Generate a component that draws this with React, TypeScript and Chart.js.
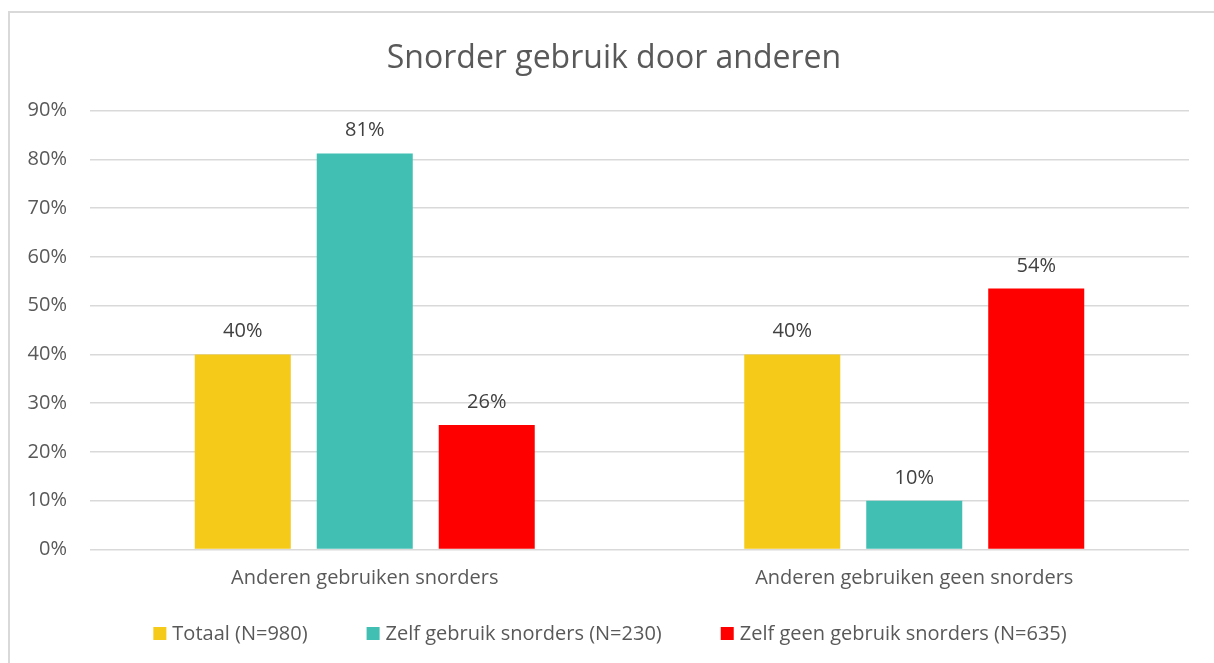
import React, { useEffect, useRef } from "react";
import { Chart, registerables } from "chart.js";

Chart.register(...registerables);

const TITLE = "Snorder gebruik door anderen";
const categories = ["Anderen gebruiken snorders", "Anderen gebruiken geen snorders"];
const seriesNames = [
  "Totaal (N=980)",
  "Zelf gebruik snorders (N=230)",
  "Zelf geen gebruik snorders (N=635)",
];
const totaal = [40.0, 40.0];
const zelfGebruik = [81.2, 10.0];
const zelfGeenGebruik = [25.5, 53.5];
const seriesColors = ["#F5CA18", "#41BFB3", "#FF0000"];
const yTicks = [0, 10, 20, 30, 40, 50, 60, 70, 80, 90];

const FONT = '"Open Sans", sans-serif';
const TEXT = "#595959";
const SIZE = 20;

const titlePlugin = {
  id: "customTitle",
  afterDraw(chart: any) {
    const ctx = chart.ctx;
    ctx.save();
    ctx.font = `32px ${FONT}`;
    ctx.fillStyle = TEXT;
    ctx.textAlign = "center";
    ctx.textBaseline = "alphabetic";
    ctx.fillText(TITLE, chart.width / 2 + 2, 55);
    ctx.restore();
  },
};

const dataLabelPlugin = {
  id: "dataLabels",
  afterDatasetsDraw(chart: any) {
    const ctx = chart.ctx;
    ctx.save();
    ctx.font = `${SIZE}px ${FONT}`;
    ctx.fillStyle = "#404040";
    ctx.textAlign = "center";
    ctx.textBaseline = "alphabetic";
    chart.data.datasets.forEach((ds: any, i: number) => {
      const meta = chart.getDatasetMeta(i);
      meta.data.forEach((bar: any, j: number) => {
        ctx.fillText(Math.round(ds.data[j]) + "%", bar.x, bar.y - 17);
      });
    });
    ctx.restore();
  },
};

const legendPlugin = {
  id: "customLegend",
  afterDraw(chart: any) {
    const ctx = chart.ctx;
    ctx.save();
    ctx.font = `${SIZE}px ${FONT}`;
    ctx.textBaseline = "middle";
    ctx.textAlign = "left";
    const box = 13;
    const gap = 6;
    const spacing = 59;
    const widths = chart.data.datasets.map(
      (ds: any) => box + gap + ctx.measureText(ds.label).width
    );
    const total = widths.reduce((a: number, b: number) => a + b, 0) + spacing * (widths.length - 1);
    let x = chart.width / 2 - total / 2 - 2;
    const y = chart.chartArea.bottom + 84;
    chart.data.datasets.forEach((ds: any, i: number) => {
      ctx.fillStyle = ds.backgroundColor;
      ctx.fillRect(x, y - box / 2, box, box);
      ctx.fillStyle = TEXT;
      ctx.fillText(ds.label, x + box + gap, y + 1);
      x += widths[i] + spacing;
    });
    ctx.restore();
  },
};

export default function App() {
  const ref = useRef<HTMLCanvasElement | null>(null);
  useEffect(() => {
    if (!ref.current) return;
    const seriesData = [totaal, zelfGebruik, zelfGeenGebruik];
    const chart = new Chart(ref.current, {
      type: "bar",
      data: {
        labels: categories,
        datasets: seriesNames.map((name, i) => ({
          label: name,
          data: seriesData[i],
          backgroundColor: seriesColors[i],
          categoryPercentage: 0.666,
          barPercentage: 0.787,
        })),
      },
      options: {
        responsive: false,
        animation: false,
        layout: { padding: { left: 0, right: 25, top: 97.5, bottom: 63.5 } },
        plugins: {
          title: { display: false },
          legend: { display: false },
          tooltip: { enabled: false },
        },
        scales: {
          x: {
            grid: { display: false, drawTicks: false },
            border: { display: false },
            ticks: { color: TEXT, font: { family: FONT, size: SIZE }, padding: 17 },
            afterFit(s: any) {
              s.height = 50;
            },
          },
          y: {
            min: 0,
            max: 90,
            afterBuildTicks(s: any) {
              s.ticks = yTicks.map((v) => ({ value: v }));
            },
            ticks: {
              color: TEXT,
              font: { family: FONT, size: SIZE },
              padding: 23,
              callback: (v: any) => v + "%",
            },
            grid: { color: "#d9d9d9", lineWidth: 1.5, drawTicks: false },
            border: { display: false },
            afterFit(s: any) {
              s.width = 80;
            },
          },
        },
      },
      plugins: [titlePlugin, dataLabelPlugin, legendPlugin],
    });
    return () => chart.destroy();
  }, []);
  return (
    <div
      style={{
        position: "fixed",
        left: 8,
        top: 11,
        width: 1206,
        height: 652,
        borderLeft: "2px solid #d9d9d9",
        borderTop: "2px solid #d9d9d9",
        background: "#fff",
      }}
    >
      <canvas ref={ref} width={1204} height={650} style={{ display: "block" }} />
    </div>
  );
}
